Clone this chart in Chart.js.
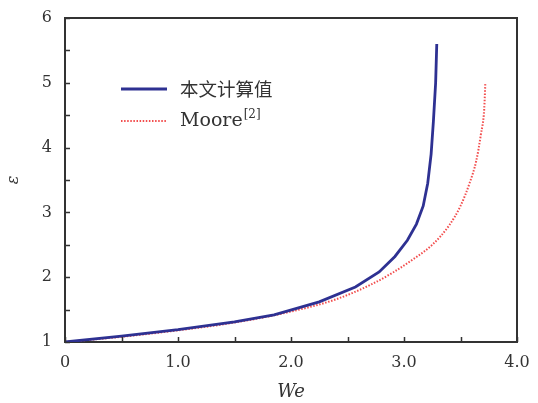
<!DOCTYPE html>
<html>
<head>
<meta charset="utf-8">
<script src="https://cdn.jsdelivr.net/npm/chart.js@4"></script>
<style>
  html, body { margin: 0; padding: 0; background: #fff; }
  #wrap { width: 538px; height: 403px; }
</style>
</head>
<body>
<div id="wrap"><canvas id="myChart"></canvas></div>
<script>
// present calculation (solid) and Moore's result (dotted)
var calcWe  = [0, 0.5, 1.0, 1.5, 1.85, 2.25, 2.57, 2.78, 2.92, 3.03, 3.11, 3.17, 3.21, 3.24, 3.26, 3.28, 3.29];
var calcEps = [1.0, 1.09, 1.19, 1.31, 1.42, 1.62, 1.85, 2.08, 2.32, 2.57, 2.82, 3.1, 3.45, 3.9, 4.4, 5.0, 5.6];

var mooreWe  = [0, 0.5, 1.0, 1.5, 2.0, 2.4, 2.7, 2.9, 3.1, 3.25, 3.4, 3.5, 3.58, 3.64, 3.68, 3.71, 3.72];
var mooreEps = [1.0, 1.08, 1.18, 1.30, 1.47, 1.66, 1.88, 2.07, 2.3, 2.5, 2.8, 3.1, 3.45, 3.8, 4.2, 4.6, 5.0];

var legendNames = ["本文计算值", "Moore"];
var legendRefs = ["", "[2]"];

var serif = "'DejaVu Serif', 'Liberation Serif', serif";
var textColor = "#333";

function toPoints(xs, ys) {
    var pts = [];
    for (var i = 0; i < xs.length; i++) pts.push({ x: xs[i], y: ys[i] });
    return pts;
}

// inward tick marks plus the top/right frame
var frameTicks = {
    id: "frameTicks",
    afterDraw: function(chart) {
        var ctx = chart.ctx, a = chart.chartArea;
        var xs = chart.scales.x, ys = chart.scales.y;
        ctx.save();
        ctx.strokeStyle = "#333";
        ctx.lineWidth = 1.5;
        ctx.beginPath();
        xs.ticks.forEach(function(t) {
            var px = Math.round(xs.getPixelForValue(t.value)) + 0.5;
            ctx.moveTo(px, a.bottom);
            ctx.lineTo(px, a.bottom - 5);
        });
        ys.ticks.forEach(function(t) {
            var py = Math.round(ys.getPixelForValue(t.value)) + 0.5;
            ctx.moveTo(a.left, py);
            ctx.lineTo(a.left + 5, py);
        });
        ctx.stroke();
        ctx.lineWidth = 2;
        ctx.beginPath();
        ctx.moveTo(a.left, a.top);
        ctx.lineTo(a.right, a.top);
        ctx.lineTo(a.right, a.bottom);
        ctx.stroke();
        ctx.restore();
    }
};

// legend inside the plot, with a superscript reference mark
var innerLegend = {
    id: "innerLegend",
    afterDatasetsDraw: function(chart) {
        var ctx = chart.ctx;
        var x0 = 121, x1 = 167, tx = 180;
        var rows = [89, 121];
        ctx.save();
        chart.data.datasets.forEach(function(ds, i) {
            var y = rows[i];
            ctx.strokeStyle = ds.borderColor;
            ctx.lineWidth = ds.borderWidth;
            ctx.setLineDash(ds.borderDash || []);
            ctx.beginPath();
            ctx.moveTo(x0, y);
            ctx.lineTo(x1, y);
            ctx.stroke();
            ctx.setLineDash([]);
            ctx.fillStyle = textColor;
            ctx.textBaseline = "middle";
            ctx.font = i == 0 ? "18.5px 'Noto Sans CJK SC'" : "19px " + serif;
            ctx.fillText(legendNames[i], tx, y);
            if (legendRefs[i]) {
                var w = ctx.measureText(legendNames[i]).width;
                ctx.font = "12px " + serif;
                ctx.fillText(legendRefs[i], tx + w + 1, y - 6);
            }
        });
        ctx.restore();
    }
};

var ctx = document.getElementById("myChart");

var data = {
    datasets: [
        {
            label: legendNames[0],
            data: toPoints(calcWe, calcEps),
            borderColor: "#2e3192",
            borderWidth: 2.8,
            showLine: true,
            pointRadius: 0,
            tension: 0
        },
        {
            label: legendNames[1],
            data: toPoints(mooreWe, mooreEps),
            borderColor: "#f24d4d",
            borderWidth: 2,
            borderDash: [1.5, 1.6],
            showLine: true,
            pointRadius: 0,
            cubicInterpolationMode: "monotone"
        }
    ]
};

var options = {
    responsive: true,
    maintainAspectRatio: false,
    animation: false,
    events: [],
    layout: { padding: { top: 18, right: 21, bottom: 0, left: 0 } },
    plugins: {
        legend: { display: false },
        tooltip: { enabled: false }
    },
    scales: {
        x: {
            type: "linear",
            min: 0,
            max: 4,
            grid: { display: false, drawTicks: false, tickLength: 0 },
            border: { display: true, color: "#333", width: 2 },
            afterFit: function(s) {
                s.height = 61;
                s.paddingLeft = 0;
                s.paddingRight = 0;
            },
            ticks: {
                stepSize: 0.5,
                autoSkip: false,
                maxRotation: 0,
                color: textColor,
                font: { family: serif, size: 16 },
                padding: 11,
                callback: function(v) {
                    if (v % 1 !== 0) return "";
                    return v === 0 ? "0" : v.toFixed(1);
                }
            },
            title: {
                display: true,
                text: "We",
                color: textColor,
                font: { family: serif, size: 18, style: "italic" },
                padding: { top: 0, bottom: 0 }
            }
        },
        y: {
            type: "linear",
            min: 1,
            max: 6,
            grid: { display: false, drawTicks: false, tickLength: 0 },
            border: { display: true, color: "#333", width: 2 },
            afterFit: function(s) {
                s.width = 65;
                s.paddingTop = 0;
                s.paddingBottom = 0;
            },
            ticks: {
                stepSize: 0.5,
                autoSkip: false,
                color: textColor,
                font: { family: serif, size: 16 },
                padding: 13,
                callback: function(v) {
                    return v % 1 === 0 ? String(v) : "";
                }
            },
            title: {
                display: true,
                text: "ε",
                color: textColor,
                font: { family: serif, size: 16, style: "italic" },
                padding: { top: 4, bottom: 0 }
            }
        }
    }
};

var chart = new Chart(ctx, {
    type: "scatter",
    data: data,
    options: options,
    plugins: [frameTicks, innerLegend]
});
</script>
</body>
</html>
